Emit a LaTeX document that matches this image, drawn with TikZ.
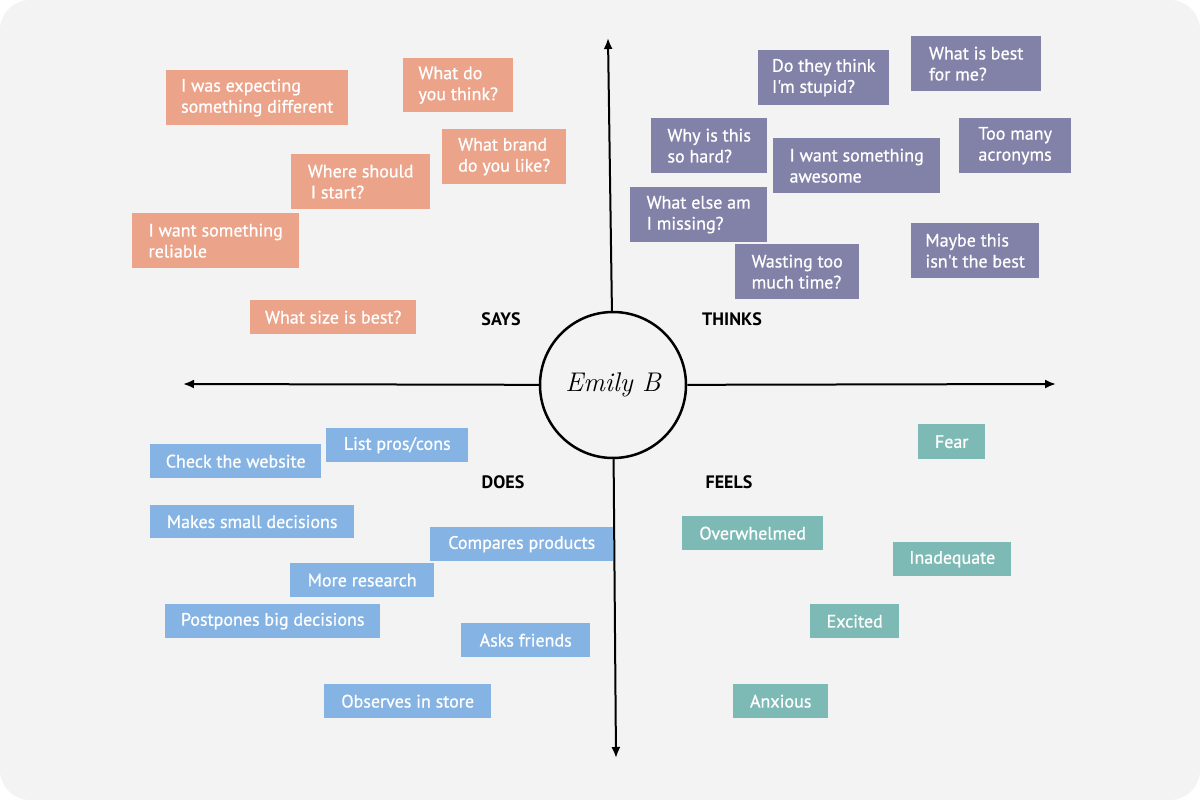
\documentclass[tikz,border=0pt]{standalone}
\usepackage{fontspec}
\setmainfont{PT Sans}
\newfontfamily\cardfont[FakeBold=0.8]{PT Sans}
\newfontfamily\namefont{Latin Modern Roman}
\usetikzlibrary{arrows.meta}
\definecolor{bgc}{HTML}{F3F3F4}
\definecolor{sayc}{HTML}{EBA38A}
\definecolor{thinkc}{HTML}{8282A8}
\definecolor{doesc}{HTML}{85B3E3}
\definecolor{feelc}{HTML}{7DBAB5}
\tikzset{
  card/.style n args={3}{fill=#1, draw=none, anchor=north west, minimum width=#2pt, minimum height=#3pt,
    inner xsep=4pt, inner ysep=2pt, align=left, text=white, font=\cardfont\fontsize{18}{21}\selectfont},
  quad/.style={font=\bfseries\fontsize{18}{20}\selectfont, text=black},
  axis/.style={line width=2pt, -{Latex[length=11pt,width=9pt]}},
}
\begin{document}
\begin{tikzpicture}[x=1pt,y=-1pt]
\useasboundingbox (0,0) rectangle (1200,800);
\fill[white] (0,0) rectangle (1200,800);
\fill[bgc, rounded corners=30pt] (0,0) rectangle (1200,800);

% center
\node[circle, draw, line width=2.5pt, minimum size=146pt, inner sep=0pt,
  font=\namefont\itshape\fontsize{27}{30}\selectfont] (c) at (613,385) {Emily B};
\coordinate (top) at (608,38);
\coordinate (bot) at (616,758);
\coordinate (lft) at (183,384);
\coordinate (rgt) at (1056,384);
\draw[axis] (c) -- (top);
\draw[axis] (c) -- (bot);
\draw[axis] (c) -- (lft);
\draw[axis] (c) -- (rgt);

\node[quad] (says) at (501,319) {SAYS};
\node[quad] (thinks) at (732,319) {THINKS};
\node[quad] (does) at (503,482) {DOES};
\node[quad] (feels) at (729,482) {FEELS};

% says
\node[card={sayc}{182}{55}] (s1) at (166,70) {I was expecting\\something different};
\node[card={sayc}{110}{54}] (s2) at (403,58) {What do\\you think?};
\node[card={sayc}{124}{55}] (s3) at (442,129) {What brand\\do you like?};
\node[card={sayc}{139}{55}] (s4) at (291,154) {Where should\\\hspace*{3pt}I start?};
\node[card={sayc}{167}{55}] (s5) at (132,213) {I want something\\reliable};
\node[card={sayc}{166}{34}] (s6) at (250,300) {What size is best?};

% thinks
\node[card={thinkc}{131}{55}] (t1) at (758,50) {Do they think\\I'm stupid?};
\node[card={thinkc}{130}{55}] (t2) at (911,36) {What is best\\for me?};
\node[card={thinkc}{116}{55}] (t3) at (651,118) {Why is this\\so hard?};
\node[card={thinkc}{167}{55}] (t4) at (773,138) {I want something\\awesome};
\node[card={thinkc}{112}{55}] (t5) at (959,118) {Too many\\acronyms};
\node[card={thinkc}{137}{55}] (t6) at (630,187) {What else am\\I missing?};
\node[card={thinkc}{124}{55}] (t7) at (735,244) {Wasting too\\much time?};
\node[card={thinkc}{128}{55}] (t8) at (911,223) {Maybe this\\isn't the best};

% does
\node[card={doesc}{171}{34}] (d1) at (150,444) {Check the website};
\node[card={doesc}{142}{34}] (d2) at (326,428) {List pros/cons};
\node[card={doesc}{204}{33}] (d3) at (150,505) {Makes small decisions};
\node[card={doesc}{183}{34}] (d4) at (430,527) {Compares products};
\node[card={doesc}{144}{34}] (d5) at (290,563) {More research};
\node[card={doesc}{215}{34}] (d6) at (165,604) {Postpones big decisions};
\node[card={doesc}{129}{34}] (d7) at (461,623) {Asks friends};
\node[card={doesc}{167}{34}] (d8) at (324,684) {Observes in store};

% feels
\node[card={feelc}{67}{35}] (f1) at (918,424) {Fear};
\node[card={feelc}{141}{34}] (f2) at (682,516) {Overwhelmed};
\node[card={feelc}{118}{34}] (f3) at (893,542) {Inadequate};
\node[card={feelc}{89}{34}] (f4) at (810,604) {Excited};
\node[card={feelc}{95}{34}] (f5) at (733,684) {Anxious};
\end{tikzpicture}
\end{document}
